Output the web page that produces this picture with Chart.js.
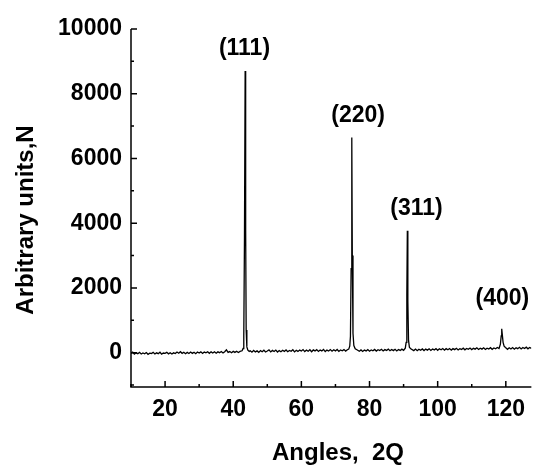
<!DOCTYPE html>
<html>
<head>
<meta charset="utf-8">
<script src="https://cdn.jsdelivr.net/npm/chart.js@4/dist/chart.umd.min.js"></script>
<style>
  html, body { margin: 0; padding: 0; background: #fff; }
  #xrd { display: block; }
</style>
</head>
<body>
<canvas id="xrd" width="534" height="468"></canvas>
<script>
// XRD pattern: 2Q angle vs. counts
const angles = [
  10, 10.5, 11, 11.5, 12, 12.5, 13, 13.5, 14, 14.5,
  15, 15.5, 16, 16.5, 17, 17.5, 18, 18.5, 19, 19.5,
  20, 20.5, 21, 21.5, 22, 22.5, 23, 23.5, 24, 24.5,
  25, 25.5, 26, 26.5, 27, 27.5, 28, 28.5, 29, 29.5,
  30, 30.5, 31, 31.5, 32, 32.5, 33, 33.5, 34, 34.5,
  35, 35.5, 36, 36.5, 37, 37.5, 38, 38.5, 39, 39.5,
  40, 40.5, 41, 41.5, 42,
  42.6, 42.9, 43.1, 43.3, 43.5, 43.65, 43.8, 44.0, 44.3, 44.7,
  45, 45.5, 46, 46.5, 47, 47.5, 48, 48.5, 49, 49.5,
  50, 50.5, 51, 51.5, 52, 52.5, 53, 53.5, 54, 54.5,
  55, 55.5, 56, 56.5, 57, 57.5, 58, 58.5, 59, 59.5,
  60, 60.5, 61, 61.5, 62, 62.5, 63, 63.5, 64, 64.5,
  65, 65.5, 66, 66.5, 67, 67.5, 68, 68.5, 69, 69.5,
  70, 70.5, 71, 71.5, 72, 72.5, 73, 73.5,
  73.9, 74.2, 74.4, 74.6, 74.8, 74.95, 75.15, 75.4, 75.8, 76.3,
  77, 77.5, 78, 78.5, 79, 79.5, 80, 80.5, 81, 81.5,
  82, 82.5, 83, 83.5, 84, 84.5, 85, 85.5, 86, 86.5,
  87, 87.5, 88, 88.5, 89, 89.5, 90,
  90.5, 90.75, 90.95, 91.1, 91.25, 91.45, 91.7, 92.1,
  93, 93.5, 94, 94.5, 95, 95.5, 96, 96.5, 97, 97.5,
  98, 98.5, 99, 99.5, 100, 100.5, 101, 101.5, 102, 102.5,
  103, 103.5, 104, 104.5, 105, 105.5, 106, 106.5, 107, 107.5,
  108, 108.5, 109, 109.5, 110, 110.5, 111, 111.5, 112, 112.5,
  113, 113.5, 114, 114.5, 115, 115.5, 116, 116.5, 117, 117.5,
  118,
  118.4, 118.65, 118.8, 118.95, 119.2, 119.5, 119.9,
  120.5, 121, 121.5, 122, 122.5, 123, 123.5, 124, 124.5, 125,
  125.5, 126, 126.5, 127, 127.5
];
const counts = [
  -20, 15, -45, -5, -30, 10, -40, -10, -35, 5,
  -50, -15, -25, 10, -40, -5, -30, 15, -45, -10,
  -20, 10, -35, 0, -40, -5, -25, 20, -15, 30,
  -20, 15, -30, 10, -25, 20, -20, 15, -30, 20,
  -10, 25, -25, 20, -5, 30, -20, 25, -10, 30,
  -15, 25, 0, 35, -10, 30, 90, 10, 35, 0,
  40, 10, 45, 5, 40,
  60, 130, 500, 3500, 8700, 3800, 700, 180, 80, 40,
  60, 15, 70, 25, 55, 10, 65, 30, 75, 20,
  50, 85, 25, 70, 35, 80, 20, 65, 30, 75,
  40, 85, 30, 70, 45, 90, 25, 75, 40, 80,
  50, 95, 35, 80, 45, 90, 30, 85, 55, 95,
  40, 85, 55, 100, 35, 80, 50, 95, 45, 90,
  55, 100, 40, 85, 60, 95, 50, 90,
  110, 200, 500, 2600, 6645, 3000, 600, 220, 120, 90,
  45, 85, 40, 80, 55, 95, 45, 85, 60, 100,
  50, 90, 65, 105, 55, 95, 70, 110, 60, 100,
  65, 105, 55, 100, 70, 110, 75,
  140, 320, 1800, 3765, 1600, 380, 170, 120,
  65, 110, 60, 105, 75, 115, 65, 110, 80, 120,
  70, 115, 85, 125, 75, 120, 90, 130, 80, 125,
  90, 130, 80, 125, 95, 135, 85, 125, 100, 140,
  90, 130, 105, 145, 95, 135, 110, 150, 100, 140,
  110, 150, 100, 140, 115, 155, 105, 145, 120, 160,
  130,
  260, 520, 740, 580, 320, 200, 160,
  105, 150, 115, 160, 110, 155, 125, 165, 115, 160,
  130, 170, 120, 160, 135
];

const xTicks = [20, 40, 60, 80, 100, 120];
const xMinorTicks = [10, 30, 50, 70, 90, 110];
const yTicks = [0, 2000, 4000, 6000, 8000, 10000];
const yMinorTicks = [-1000, 1000, 3000, 5000, 7000, 9000];

const peakLabels = ['(111)', '(220)', '(311)', '(400)'];
const peakLabelAngles = [43.3, 76.65, 93.8, 119.0];
const peakLabelCounts = [9400, 7330, 4460, 1680];

const FONT = 'Liberation Sans, Arial, sans-serif';

// axes with inward ticks, peak labels and titles
const framePlugin = {
  id: 'frame',
  afterDraw(chart) {
    const ctx = chart.ctx;
    const x = chart.scales.x;
    const y = chart.scales.y;
    const area = chart.chartArea;
    ctx.save();
    ctx.strokeStyle = '#000';
    ctx.lineWidth = 1.5;
    ctx.beginPath();
    ctx.moveTo(area.left, area.top);
    ctx.lineTo(area.left, area.bottom);
    ctx.lineTo(area.right, area.bottom);
    ctx.stroke();

    ctx.beginPath();
    xTicks.forEach(v => {
      const px = x.getPixelForValue(v);
      ctx.moveTo(px, area.bottom); ctx.lineTo(px, area.bottom - 6);
    });
    xMinorTicks.forEach(v => {
      const px = x.getPixelForValue(v);
      ctx.moveTo(px, area.bottom); ctx.lineTo(px, area.bottom - 3);
    });
    yTicks.forEach(v => {
      const py = y.getPixelForValue(v);
      ctx.moveTo(area.left, py); ctx.lineTo(area.left + 6, py);
    });
    yMinorTicks.forEach(v => {
      const py = y.getPixelForValue(v);
      ctx.moveTo(area.left, py); ctx.lineTo(area.left + 3, py);
    });
    ctx.stroke();

    ctx.fillStyle = '#000';
    ctx.font = 'bold 23px ' + FONT;
    ctx.textAlign = 'center';
    ctx.textBaseline = 'middle';
    peakLabels.forEach((t, i) => {
      ctx.fillText(t, x.getPixelForValue(peakLabelAngles[i]), y.getPixelForValue(peakLabelCounts[i]));
    });

    ctx.font = 'bold 24px ' + FONT;
    ctx.textBaseline = 'alphabetic';
    ctx.fillText('Angles,  2Q', 338, 460);

    ctx.translate(33, 220);
    ctx.rotate(-Math.PI / 2);
    ctx.fillText('Arbitrary units,N', 0, 0);
    ctx.restore();
  }
};

new Chart(document.getElementById('xrd'), {
  type: 'line',
  data: {
    datasets: [{
      data: angles.map((a, i) => ({ x: a, y: counts[i] })),
      borderColor: '#000',
      borderWidth: 1.3,
      pointRadius: 0,
      tension: 0,
      fill: false
    }]
  },
  options: {
    responsive: false,
    animation: false,
    layout: { padding: { top: 29, right: 0, left: 0, bottom: 0 } },
    plugins: { legend: { display: false }, tooltip: { enabled: false } },
    scales: {
      x: {
        type: 'linear',
        min: 10,
        max: 127.5,
        afterBuildTicks: s => { s.ticks = xTicks.map(v => ({ value: v })); },
        afterFit: s => { s.height = 81; },
        grid: { display: false, drawTicks: false },
        border: { display: false },
        ticks: {
          color: '#000', padding: 9, maxRotation: 0,
          font: { family: FONT, size: 23, weight: 'bold' },
          callback: v => String(v)
        }
      },
      y: {
        min: -1060,
        max: 10000,
        afterBuildTicks: s => { s.ticks = yTicks.map(v => ({ value: v })); },
        afterFit: s => { s.width = 131; },
        grid: { display: false, drawTicks: false },
        border: { display: false },
        ticks: {
          color: '#000', padding: 9,
          font: { family: FONT, size: 23, weight: 'bold' },
          callback: v => String(v)
        }
      }
    }
  },
  plugins: [framePlugin]
});
</script>
</body>
</html>
